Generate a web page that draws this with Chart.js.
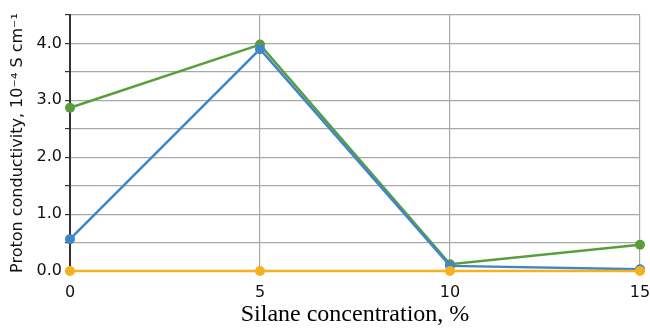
<!DOCTYPE html>
<html>
<head>
<meta charset="utf-8">
<script src="https://cdn.jsdelivr.net/npm/chart.js@4"></script>
<style>
  html, body { margin: 0; padding: 0; background: #fff; }
  #wrap { width: 650px; height: 329px; }
</style>
</head>
<body>
<div id="wrap"><canvas id="chart" width="650" height="329"></canvas></div>
<script>
// Silane concentration (%)
const concentrations = [0, 5, 10, 15];
// Proton conductivity, 10^-4 S/cm
const greenSeries = [2.87, 3.98, 0.12, 0.46];
const blueSeries = [0.56, 3.90, 0.09, 0.03];
const orangeSeries = [0, 0, 0, 0];
const yTickLabels = ['0.0', '1.0', '2.0', '3.0', '4.0'];

function toPoints(values) {
    return concentrations.map((c, i) => ({ x: c, y: values[i] }));
}

function line(data, color, order) {
    return {
        data: toPoints(data),
        borderColor: color,
        backgroundColor: color,
        borderWidth: 2.5,
        pointRadius: 5,
        pointHoverRadius: 5,
        pointBorderWidth: 0,
        tension: 0,
        clip: false,
        order: order
    };
}

var ctx = document.getElementById('chart').getContext('2d');
var chart = new Chart(ctx, {
    type: 'line',
    data: {
        datasets: [
            line(orangeSeries, '#f5b120', 1),
            line(blueSeries, '#3f86c9', 2),
            line(greenSeries, '#5a9e3c', 3)
        ]
    },
    options: {
        responsive: false,
        animation: false,
        layout: { padding: { top: 15, right: 10, left: 8, bottom: 0 } },
        plugins: { legend: { display: false }, tooltip: { enabled: false } },
        scales: {
            x: {
                type: 'linear',
                min: 0,
                max: 15,
                afterFit: s => { s.height = 58; s.paddingRight = 0; s.paddingLeft = 0; },
                ticks: {
                    stepSize: 5,
                    color: '#111',
                    padding: 12,
                    font: { family: 'DejaVu Sans', size: 16 }
                },
                grid: { color: '#a8a8a8', lineWidth: 1.2, drawTicks: false },
                border: { color: '#a8a8a8' },
                title: {
                    display: true,
                    text: 'Silane concentration, %',
                    color: '#000',
                    font: { family: 'Liberation Serif', size: 24 },
                    padding: { top: 7, bottom: 0 }
                }
            },
            y: {
                min: 0,
                max: 4.5,
                afterFit: s => { s.width = 62; },
                ticks: {
                    stepSize: 0.5,
                    color: '#111',
                    padding: 3,
                    font: { family: 'DejaVu Sans', size: 16 },
                    callback: v => Number.isInteger(v) ? yTickLabels[v] : ''
                },
                grid: { color: '#a8a8a8', lineWidth: 1.2, tickColor: '#333', tickLength: 5 },
                border: { color: '#333', width: 2 },
                title: {
                    display: true,
                    text: 'Proton conductivity, 10\u207B\u2074 S cm\u207B\u00B9',
                    color: '#111',
                    font: { family: 'DejaVu Sans', size: 16 },
                    padding: { top: 0, bottom: 0 }
                }
            }
        }
    }
});
</script>
</body>
</html>
